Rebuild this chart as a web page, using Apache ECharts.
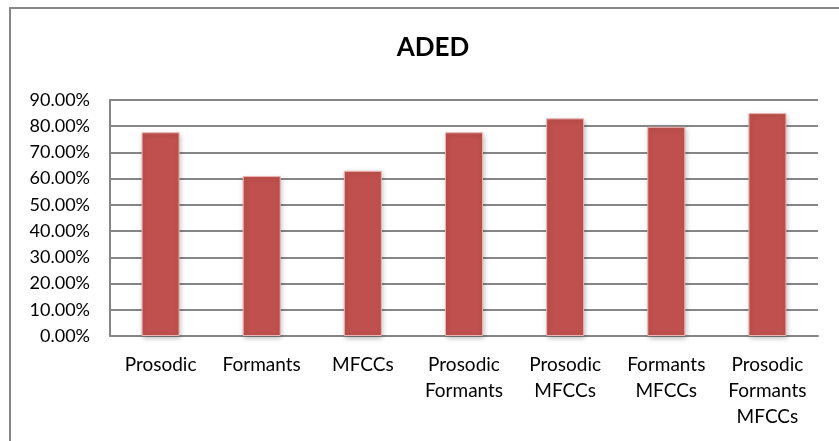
<!DOCTYPE html>
<html>
<head>
<meta charset="utf-8">
<script src="https://cdn.jsdelivr.net/npm/echarts@6/dist/echarts.min.js"></script>
<style>
  html, body { margin: 0; padding: 0; background: #fff; }
  #chart { width: 839px; height: 441px; }
</style>
</head>
<body>
<div id="chart"></div>
<script>
// Feature sets (multi-line labels) and recognition rate per set, in percent
const categories = [
  'Prosodic',
  'Formants',
  'MFCCs',
  'Prosodic\nFormants',
  'Prosodic\nMFCCs',
  'Formants\nMFCCs',
  'Prosodic\nFormants\nMFCCs'
];
const accuracy = [77.7, 61.0, 63.0, 77.7, 83.0, 79.8, 85.0];
const yTicks = { min: 0, max: 90, step: 10 };
const chartTitle = 'ADED';

const FONT = 'Lato, "Open Sans", sans-serif';

const chart = echarts.init(document.getElementById('chart'), null, { renderer: 'canvas' });
chart.setOption({
  animation: false,
  backgroundColor: '#ffffff',
  graphic: [{
    type: 'rect',
    silent: true,
    shape: { x: 10, y: 8, width: 860, height: 460 },
    style: { fill: 'none', stroke: '#878787', lineWidth: 2 }
  }],
  title: {
    text: chartTitle,
    left: 428,
    top: 30,
    textAlign: 'center',
    textStyle: { fontFamily: FONT, fontSize: 26, fontWeight: 'bold', color: '#000' }
  },
  grid: { left: 110, right: 21, top: 100, bottom: 105, containLabel: false },
  xAxis: {
    type: 'category',
    data: categories,
    axisLine: { show: true, lineStyle: { color: '#868686', width: 2 } },
    axisTick: { show: false },
    axisLabel: {
      interval: 0,
      margin: 16,
      fontFamily: FONT,
      fontSize: 19,
      lineHeight: 26,
      color: '#000',
      align: 'center'
    }
  },
  yAxis: {
    type: 'value',
    min: yTicks.min,
    max: yTicks.max,
    interval: yTicks.step,
    axisLine: { show: true, lineStyle: { color: '#868686', width: 2 } },
    axisTick: { show: false },
    splitLine: { show: true, lineStyle: { color: '#868686', width: 2 } },
    axisLabel: {
      margin: 20,
      fontFamily: FONT,
      fontSize: 18,
      color: '#000',
      formatter: v => v.toFixed(2) + '%'
    }
  },
  series: [{
    type: 'bar',
    data: accuracy,
    barWidth: 38,
    itemStyle: {
      color: '#C0504D',
      borderColor: '#E9B5B3',
      borderWidth: 1,
      shadowBlur: 5,
      shadowColor: 'rgba(0,0,0,0.25)',
      shadowOffsetX: 1,
      shadowOffsetY: 2
    }
  }]
});
</script>
</body>
</html>
